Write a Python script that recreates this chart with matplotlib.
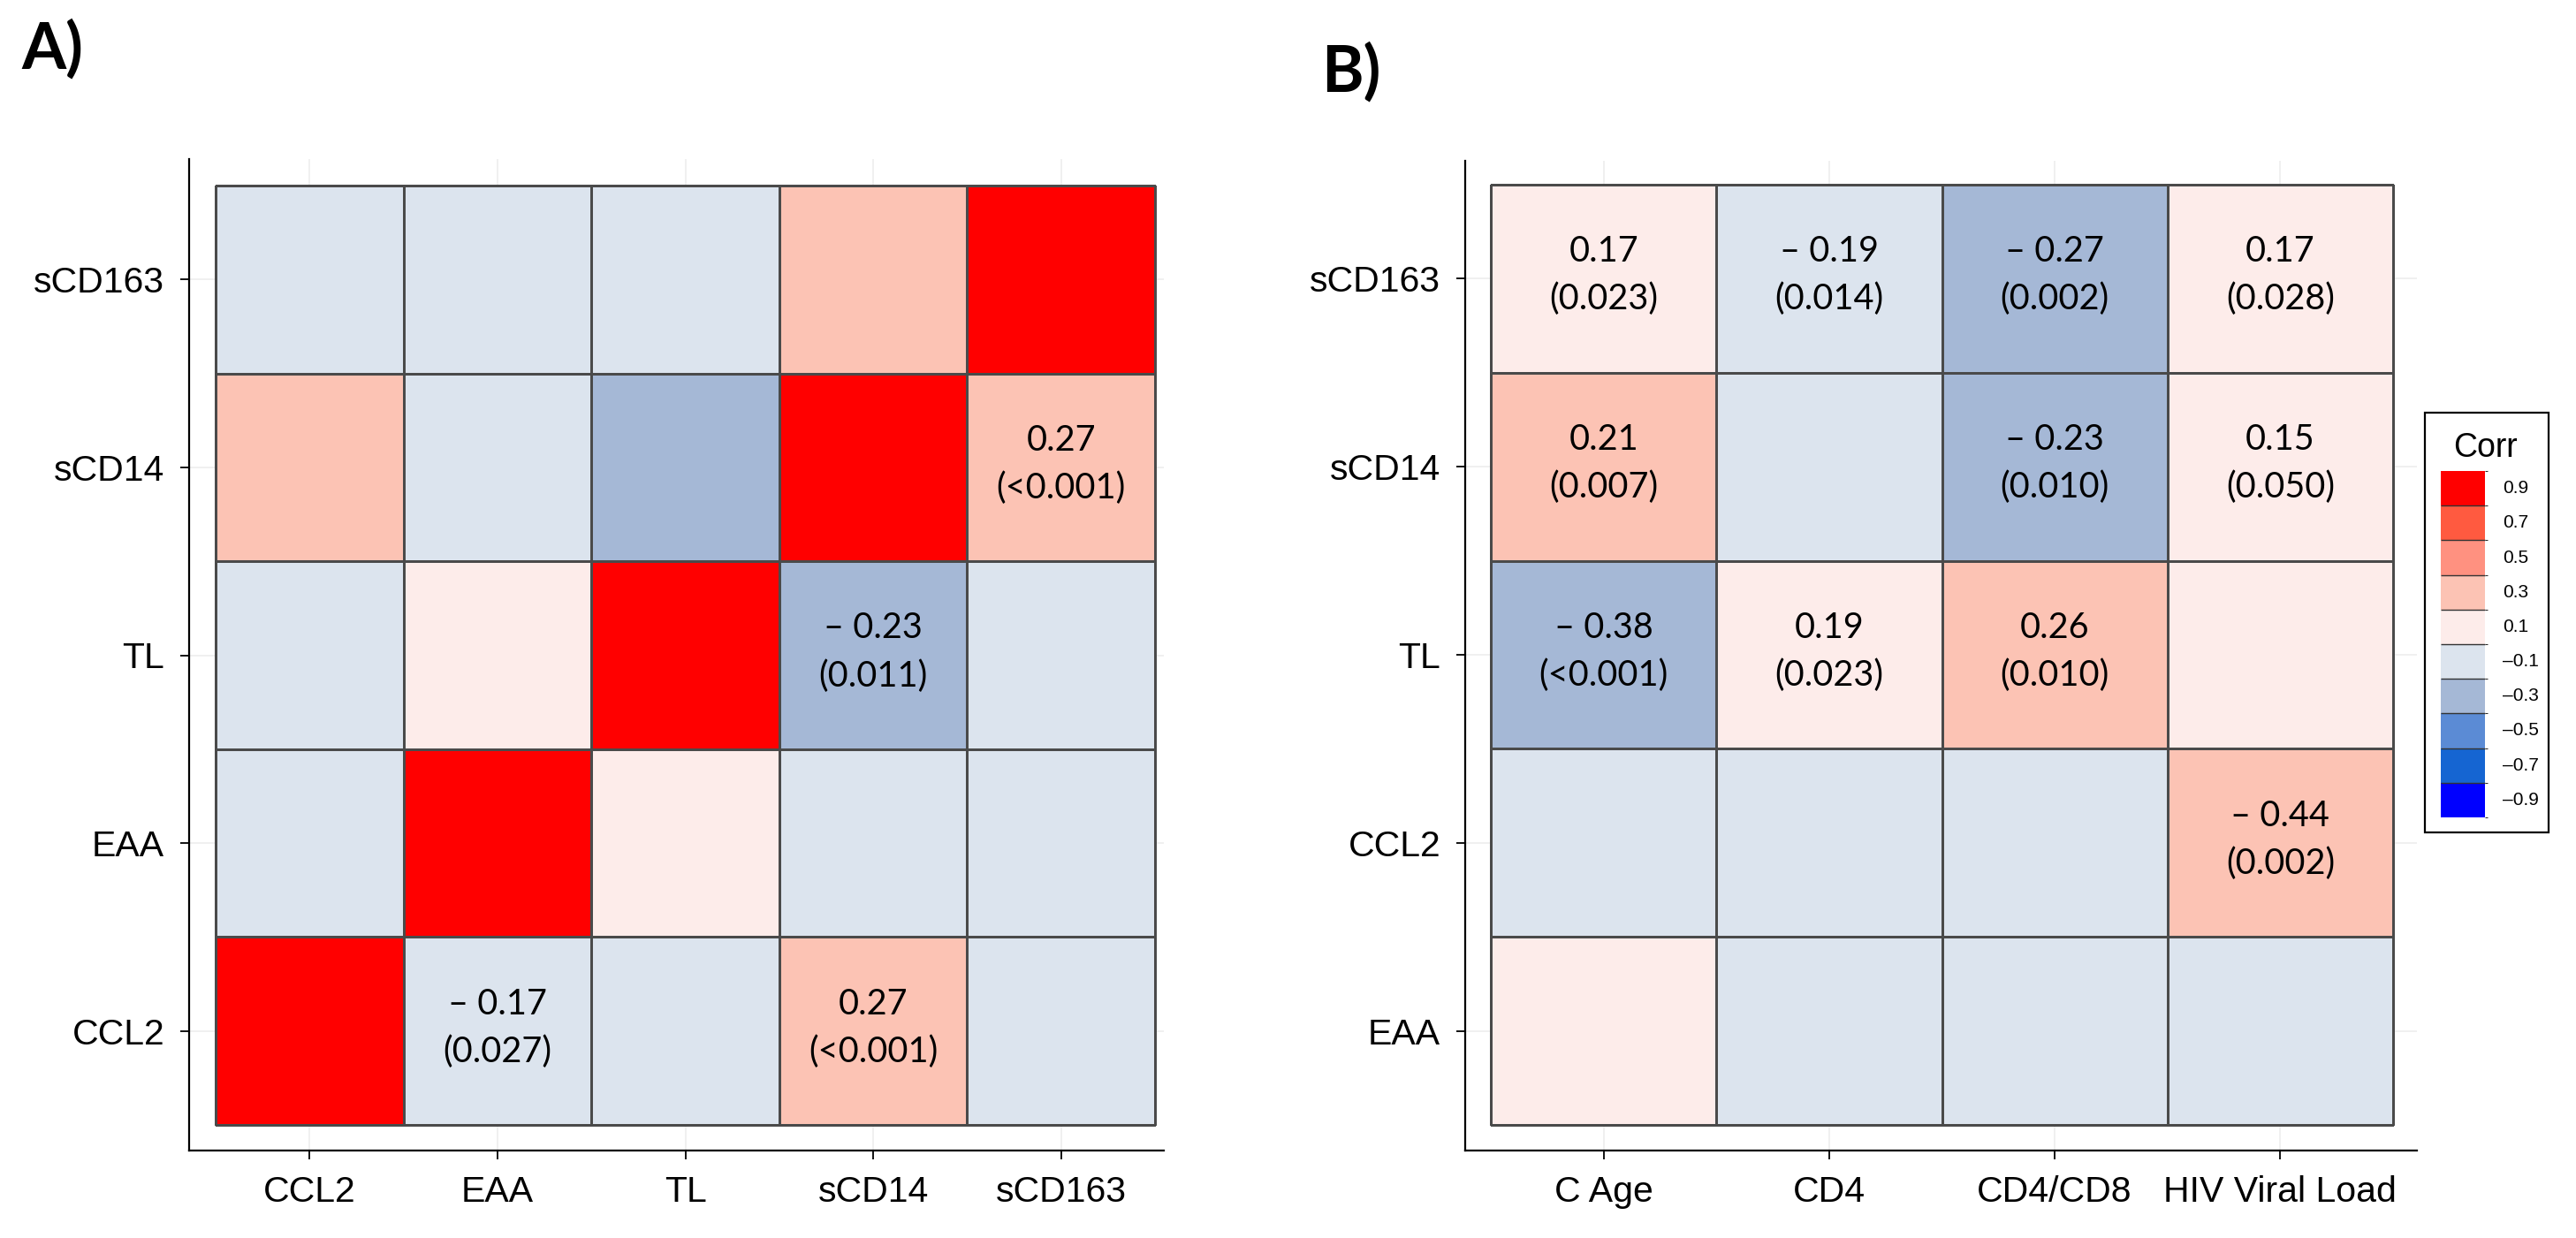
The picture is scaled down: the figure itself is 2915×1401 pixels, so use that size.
import matplotlib
matplotlib.use("Agg")
import matplotlib.pyplot as plt
from matplotlib.colors import ListedColormap, BoundaryNorm
from matplotlib.cm import ScalarMappable
from matplotlib.patches import Rectangle
import numpy as np

W, H = 2915, 1401

# ---- panel A: biomarkers vs biomarkers
a_cols = ["CCL2", "EAA", "TL", "sCD14", "sCD163"]
a_rows = ["sCD163", "sCD14", "TL", "EAA", "CCL2"]
a_r = [[-0.08, -0.05, -0.06, 0.27, 1.00],
       [0.27, -0.04, -0.23, 1.00, 0.27],
       [-0.06, 0.08, 1.00, -0.23, -0.06],
       [-0.17, 1.00, 0.08, -0.04, -0.05],
       [1.00, -0.17, -0.06, 0.27, -0.08]]
a_p = [["", "", "", "", ""],
       ["", "", "", "", "<0.001"],
       ["", "", "", "0.011", ""],
       ["", "", "", "", ""],
       ["", "0.027", "", "<0.001", ""]]

# ---- panel B: biomarkers vs clinical
b_cols = ["C Age", "CD4", "CD4/CD8", "HIV Viral Load"]
b_rows = ["sCD163", "sCD14", "TL", "CCL2", "EAA"]
b_r = [[0.17, -0.19, -0.27, 0.17],
       [0.21, -0.05, -0.23, 0.15],
       [-0.38, 0.19, 0.26, 0.08],
       [-0.06, -0.05, -0.07, -0.44],
       [0.06, -0.05, -0.06, -0.04]]
b_p = [["0.023", "0.014", "0.002", "0.028"],
       ["0.007", "", "0.010", "0.050"],
       ["<0.001", "0.023", "0.010", ""],
       ["", "", "", "0.002"],
       ["", "", "", ""]]
# tile fill as printed in the source (CCL2 / viral load tile is salmon there)
b_fill = [[0.17, -0.19, -0.27, 0.17],
          [0.21, -0.05, -0.23, 0.15],
          [-0.38, 0.19, 0.26, 0.08],
          [-0.06, -0.05, -0.07, 0.30],
          [0.06, -0.05, -0.06, -0.04]]

# ---- legend scale
corr_bins = [-1.0, -0.8, -0.6, -0.4, -0.2, 0.0, 0.2, 0.4, 0.6, 0.8, 1.0]
corr_ticks = [-0.9, -0.7, -0.5, -0.3, -0.1, 0.1, 0.3, 0.5, 0.7, 0.9]
corr_colors = ["#0000FF", "#1565D2", "#5B8BD5", "#A5B8D6", "#DCE4EE",
               "#FDECEA", "#FCC3B4", "#FF9180", "#FF5A40", "#FF0000"]

cmap = ListedColormap(corr_colors)
norm = BoundaryNorm(corr_bins, cmap.N)

TICK_FONT = "Liberation Sans"
CELL_FONT = "Lato"


def fig_rect(l, t, r, b):
    return [l / W, (H - b) / H, (r - l) / W, (b - t) / H]


def heat(ax, fill, rv, pv, cols, rows, xlim, ylim):
    nr, nc = len(rows), len(cols)
    ax.set_xlim(*xlim)
    ax.set_ylim(*ylim)
    for i in range(nr):
        ax.axhline(i, color="#eeeeee", lw=1.2, zorder=0)
    for j in range(nc):
        ax.axvline(j, color="#eeeeee", lw=1.2, zorder=0)
    xe = np.arange(nc + 1) - 0.5
    ye = np.arange(nr + 1) - 0.5
    ax.pcolormesh(xe, ye, np.array(fill), cmap=cmap, norm=norm,
                  edgecolors="#4a4a4a", linewidth=0.9, zorder=1)
    for i in range(nr):
        for j in range(nc):
            if pv[i][j] == "":
                continue
            r = rv[i][j]
            s = ("\u2013 " if r < 0 else "") + "%.2f" % abs(r)
            ax.text(j, i - 0.09, s, ha="center", va="baseline",
                    fontsize=28.5, family=CELL_FONT, zorder=3)
            ax.text(j, i + 0.165, "(" + pv[i][j] + ")", ha="center",
                    va="baseline", fontsize=28.5, family=CELL_FONT, zorder=3)
    ax.set_xticks(range(nc))
    ax.set_xticklabels(cols, family=TICK_FONT, fontsize=29.5)
    ax.set_yticks(range(nr))
    ax.set_yticklabels(rows, family=TICK_FONT, fontsize=29.5)
    ax.tick_params(length=7, width=1.3, pad=13)
    for s in ["top", "right"]:
        ax.spines[s].set_visible(False)
    for s in ["left", "bottom"]:
        ax.spines[s].set_linewidth(1.6)


fig = plt.figure(figsize=(W / 100, H / 100), dpi=100)

ax_a = fig.add_axes(fig_rect(214, 180, 1317, 1302))
heat(ax_a, a_r, a_r, a_p, a_cols, a_rows,
     (-0.5 - 30 / 212.6, 4.5 + 10 / 212.6),
     (4.5 + 29 / 212.6, -0.5 - 30 / 212.6))

ax_b = fig.add_axes(fig_rect(1658, 182, 2735, 1302))
heat(ax_b, b_fill, b_r, b_p, b_cols, b_rows,
     (-0.5 - 29 / 255.2, 3.5 + 27 / 255.2),
     (4.5 + 29 / 212.8, -0.5 - 27 / 212.8))

# legend
cax = fig.add_axes(fig_rect(2762, 533, 2812, 925))
cb = fig.colorbar(ScalarMappable(norm=norm, cmap=cmap), cax=cax,
                  boundaries=corr_bins, drawedges=True)
cb.outline.set_visible(False)
cb.dividers.set_color("#333333")
cb.dividers.set_linewidth(1.0)
cb.set_ticks([])
lab_tr = cax.get_yaxis_transform()
for v in corr_ticks:
    cax.text(1.4, v, ("%.1f" % v).replace("-", "\u2013"), transform=lab_tr,
             ha="left", va="center", fontsize=15, family=TICK_FONT)

fig.patches.append(Rectangle((2744 / W, (H - 942) / H), 140 / W, 475 / H,
                             transform=fig.transFigure, fill=False,
                             ec="black", lw=1.6))
fig.text(2812 / W, (H - 517) / H, "Corr", ha="center", va="baseline",
         fontsize=27, family=TICK_FONT)

fig.text(24 / W, (H - 77) / H, "A)", fontsize=52, fontweight="bold",
         family=CELL_FONT, va="baseline")
fig.text(1495 / W, (H - 103) / H, "B)", fontsize=52, fontweight="bold",
         family=CELL_FONT, va="baseline")

fig.savefig("out.png", dpi=100)
